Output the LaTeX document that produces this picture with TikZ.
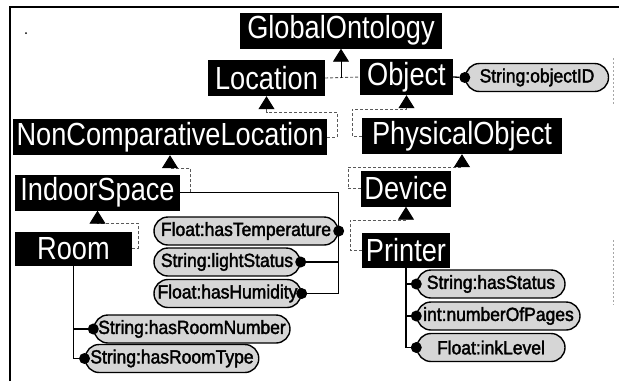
\documentclass[tikz,border=0pt]{standalone}
\usepackage{fontspec}
\setmainfont{Liberation Sans}
\newfontfamily\clsfont[FakeStretch=0.85]{Liberation Sans}
\newfontfamily\ovalfont[FakeBold=2,FakeStretch=0.92]{Liberation Sans}
\usetikzlibrary{shapes.misc,arrows.meta}
\begin{document}
\begin{tikzpicture}[x=1pt,y=-1pt,
  cls/.style={fill=black, text=white, font=\clsfont\fontsize{32pt}{34pt}\selectfont, inner xsep=3pt, inner ysep=0pt, minimum height=36pt},
  prop/.style={rounded rectangle, draw=black, line width=1.4pt, fill=black!16, font=\ovalfont\fontsize{19pt}{21pt}\selectfont, inner xsep=2pt, inner ysep=0pt, minimum height=28pt},
  dotc/.style={circle, fill=black, inner sep=0pt, minimum size=11pt},
  isa/.style={draw=black!65, line width=0.9pt, dash pattern=on 3pt off 2pt, -{Triangle[length=13pt,width=16pt,color=black]}},
  inhline/.style={draw=black!65, line width=0.9pt, dash pattern=on 3pt off 2pt},
  link/.style={draw=black, line width=1.3pt},
]
\useasboundingbox (0,0) rectangle (619,381);
% frame
\draw[line width=2pt] (10,381) -- (10,7) -- (619,7);
\draw[black!35, line width=1pt, dash pattern=on 2pt off 2pt] (613,58) -- (613,105);
\draw[black!35, line width=1pt, dash pattern=on 2pt off 2pt] (613,240) -- (613,305);
\fill (26,33) circle (1pt);

% class nodes
\node[cls, minimum width=202pt] (go) at (341,30.5) {GlobalOntology};
\node[cls, minimum width=117pt] (loc) at (266.5,78) {Location};
\node[cls, minimum width=93pt] (obj) at (406.5,77) {Object};
\node[cls, minimum width=314pt] (ncl) at (170,137) {NonComparativeLocation};
\node[cls, minimum width=200pt] (po) at (462,136) {PhysicalObject};
\node[cls, minimum width=88pt] (dev) at (406,188.5) {Device};
\node[cls, minimum width=165pt] (is) at (97.5,192.5) {IndoorSpace};
\node[cls, minimum width=117pt, minimum height=34pt] (room) at (73.5,248.5) {Room};
\node[cls, minimum width=88pt, minimum height=35pt] (pr) at (406,250.5) {Printer};

% property ovals
\node[prop, minimum width=147pt] (oid) at (537,77.5) {String:objectID};
\node[prop, minimum width=188pt] (temp) at (246,231) {Float:hasTemperature};
\node[prop, minimum width=150pt] (light) at (227,262) {String:lightStatus};
\node[prop, minimum width=151pt] (hum) at (227.5,293.5) {Float:hasHumidity};
\node[prop, minimum width=200pt] (rn) at (192,329) {String:hasRoomNumber};
\node[prop, minimum width=160pt] (rt) at (172,358.5) {String:hasRoomType};
\node[prop, minimum width=152pt] (st) at (491,284) {String:hasStatus};
\node[prop, minimum width=167pt] (np) at (498.5,316) {int:numberOfPages};
\node[prop, minimum width=152pt] (ink) at (491,347.5) {Float:inkLevel};

% dots
\node[dotc] (doid) at (oid.west) {};
\node[dotc] (dtemp) at (temp.east) {};
\node[dotc] (dlight) at (light.east) {};
\node[dotc] (dhum) at (hum.east) {};
\node[dotc] (drn) at (rn.west) {};
\node[dotc] (drt) at (rt.west) {};
\node[dotc] (dst) at (st.west) {};
\node[dotc] (dnp) at (np.west) {};
\node[dotc] (dink) at (ink.west) {};

% inheritance connectors
\draw[inhline] (loc.east) -- (obj.west);
\draw[isa, solid, draw=black] (go.south |- loc.east) -- (go.south);
\coordinate (a1) at (337,112);
\draw[isa] (ncl.east) -| (a1) -| (loc.south);
\coordinate (a2) at (352,109);
\draw[isa] (po.west) -| (a2) -| (obj.south);
\coordinate (a3) at (348,167);
\draw[isa] (dev.west) -| (a3) -| (po.south);
\coordinate (a4) at (350,220);
\draw[isa] (pr.west) -| (a4) -| (dev.south);
\coordinate (a5) at (190,168);
\draw[isa] (is.east) -| (a5) -| (ncl.south);
\coordinate (a6) at (138,223);
\draw[isa] (room.east) -| (a6) -| (is.south);

% property links
\draw[link] (obj.east) -- (doid);
\coordinate (isc) at (dtemp |- is.east);
\draw[link] (is.east) -- (isc) -- (dtemp |- dhum) -- (dhum);
\draw[link] (dlight) -- (dlight -| dtemp);
\draw[link] (room.south) |- (drt);
\draw[link] (room.south |- drn) -- (drn);
\draw[link] (pr.south) |- (dink);
\draw[link] (pr.south |- dst) -- (dst);
\draw[link] (pr.south |- dnp) -- (dnp);
\end{tikzpicture}
\end{document}
